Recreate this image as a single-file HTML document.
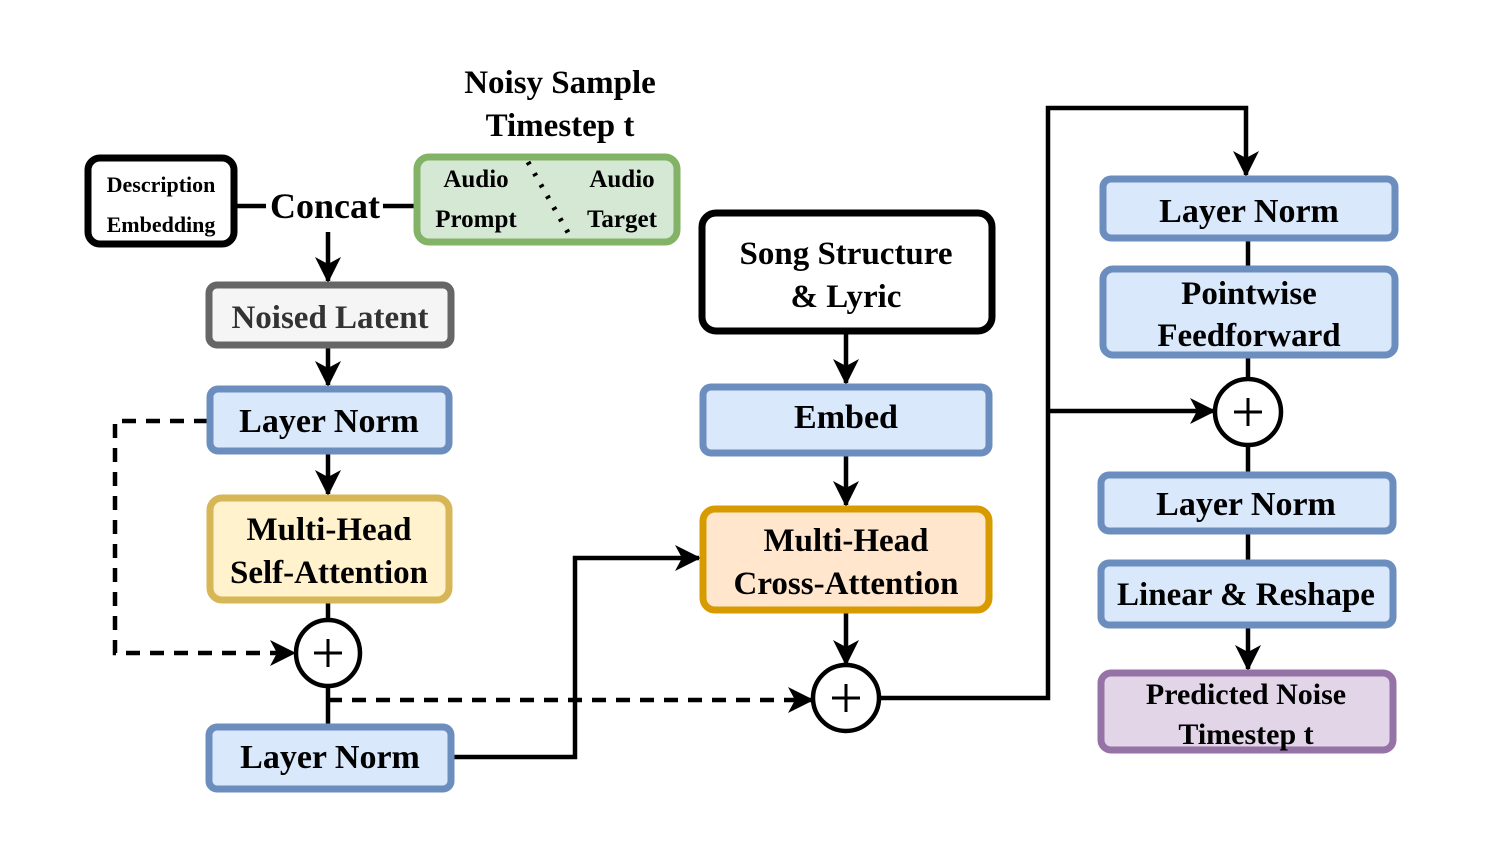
<!DOCTYPE html>
<html><head><meta charset="utf-8"><style>
html,body{margin:0;padding:0;background:#fff;}
svg{display:block;}
text{font-family:"Liberation Serif","Times New Roman","DejaVu Serif",serif;font-weight:bold;fill:#000;text-anchor:middle;}
</style></head><body>
<svg width="1496" height="856" viewBox="0 0 1496 856" xmlns="http://www.w3.org/2000/svg">
<defs>
<marker id="a" viewBox="0 0 26 26" refX="24" refY="13" markerWidth="26" markerHeight="26" markerUnits="userSpaceOnUse" orient="auto">
<path d="M0,0 L26,13 L0,26 L7,13 Z" fill="#000"/>
</marker>
</defs>
<g fill="none" stroke="#000" stroke-width="4.5">
<line x1="237" y1="206" x2="266" y2="206"/>
<line x1="383" y1="206" x2="415" y2="206"/>
<line x1="328" y1="232" x2="328" y2="281" marker-end="url(#a)"/>
<line x1="328" y1="347" x2="328" y2="385" marker-end="url(#a)"/>
<line x1="328" y1="453" x2="328" y2="494" marker-end="url(#a)"/>
<line x1="328" y1="602" x2="328" y2="621"/>
<line x1="328" y1="685" x2="328" y2="725"/>
<path d="M453,757 H575 V558 H699" marker-end="url(#a)"/>
<line x1="846" y1="333" x2="846" y2="383" marker-end="url(#a)"/>
<line x1="846" y1="455" x2="846" y2="505" marker-end="url(#a)"/>
<line x1="846" y1="612" x2="846" y2="664" marker-end="url(#a)"/>
<path d="M879,698 H1048 V108 H1246 V175" marker-end="url(#a)"/>
<line x1="1048" y1="411" x2="1214" y2="411" marker-end="url(#a)"/>
<line x1="1248" y1="240" x2="1248" y2="267"/>
<line x1="1248" y1="357" x2="1248" y2="379"/>
<line x1="1248" y1="445" x2="1248" y2="473"/>
<line x1="1248" y1="533" x2="1248" y2="561"/>
<line x1="1248" y1="627" x2="1248" y2="669" marker-end="url(#a)"/>
<path d="M208,421 H115 V653 H294" stroke-dasharray="14,10" marker-end="url(#a)"/>
<path d="M328,700 H812" stroke-dasharray="14,10" marker-end="url(#a)"/>
</g>
<rect x="88" y="158" width="146" height="86" rx="12" fill="#fff" stroke="#000" stroke-width="7"/>
<rect x="417" y="157" width="260" height="85" rx="12" fill="#d5e8d4" stroke="#82b366" stroke-width="7"/>
<line x1="528" y1="162" x2="570" y2="236" stroke="#000" stroke-width="5" stroke-dasharray="3,10"/>
<rect x="209" y="285" width="242" height="60" rx="8" fill="#f5f5f5" stroke="#666" stroke-width="7"/>
<rect x="210" y="389" width="239" height="62" rx="8" fill="#dae8fc" stroke="#6c8ebf" stroke-width="7"/>
<rect x="210" y="498" width="239" height="102" rx="12" fill="#fff2cc" stroke="#d6b656" stroke-width="7"/>
<rect x="209" y="727" width="242" height="62" rx="8" fill="#dae8fc" stroke="#6c8ebf" stroke-width="7"/>
<rect x="702" y="213" width="290" height="118" rx="14" fill="#fff" stroke="#000" stroke-width="7"/>
<rect x="703" y="387" width="286" height="66" rx="8" fill="#dae8fc" stroke="#6c8ebf" stroke-width="7"/>
<rect x="703" y="509" width="286" height="101" rx="12" fill="#ffe6cc" stroke="#d79b00" stroke-width="7"/>
<rect x="1103" y="179" width="292" height="59" rx="8" fill="#dae8fc" stroke="#6c8ebf" stroke-width="7"/>
<rect x="1103" y="269" width="292" height="86" rx="10" fill="#dae8fc" stroke="#6c8ebf" stroke-width="7"/>
<rect x="1101" y="475" width="292" height="56" rx="8" fill="#dae8fc" stroke="#6c8ebf" stroke-width="7"/>
<rect x="1101" y="563" width="292" height="62" rx="8" fill="#dae8fc" stroke="#6c8ebf" stroke-width="7"/>
<rect x="1101" y="673" width="292" height="77" rx="10" fill="#e1d5e7" stroke="#9673a6" stroke-width="7"/>
<g fill="#fff" stroke="#000" stroke-width="4.5">
<ellipse cx="328" cy="653" rx="32" ry="33"/>
<ellipse cx="846" cy="698" rx="33" ry="33"/>
<ellipse cx="1248" cy="412" rx="33" ry="33"/>
</g>
<g stroke="#000" stroke-width="3">
<path d="M314,653 H342 M328,639 V667"/>
<path d="M832,698 H860 M846,684 V712"/>
<path d="M1234,412 H1262 M1248,398 V426"/>
</g>
<g font-family="Liberation Serif, Times New Roman, serif" font-weight="bold">
<text x="560" y="93" font-size="33">Noisy Sample</text>
<text x="560" y="136" font-size="33">Timestep t</text>
<text x="161" y="192" font-size="22">Description</text>
<text x="161" y="232" font-size="22">Embedding</text>
<text x="325" y="218" font-size="36">Concat</text>
<text x="476" y="187" font-size="25">Audio</text>
<text x="476" y="227" font-size="25">Prompt</text>
<text x="622" y="187" font-size="25">Audio</text>
<text x="622" y="227" font-size="25">Target</text>
<text x="330" y="328" font-size="33" style="fill:#333">Noised Latent</text>
<text x="329" y="432" font-size="34">Layer Norm</text>
<text x="329" y="540" font-size="33">Multi-Head</text>
<text x="329" y="583" font-size="33">Self-Attention</text>
<text x="330" y="768" font-size="34">Layer Norm</text>
<text x="846" y="264" font-size="33">Song Structure</text>
<text x="846" y="307" font-size="33">&amp; Lyric</text>
<text x="846" y="428" font-size="34">Embed</text>
<text x="846" y="551" font-size="33">Multi-Head</text>
<text x="846" y="594" font-size="33">Cross-Attention</text>
<text x="1249" y="222" font-size="34">Layer Norm</text>
<text x="1249" y="304" font-size="33">Pointwise</text>
<text x="1249" y="346" font-size="33">Feedforward</text>
<text x="1246" y="515" font-size="34">Layer Norm</text>
<text x="1246" y="605" font-size="33">Linear &amp; Reshape</text>
<text x="1246" y="704" font-size="30">Predicted Noise</text>
<text x="1246" y="744" font-size="30">Timestep t</text>
</g>
</svg>
</body></html>
